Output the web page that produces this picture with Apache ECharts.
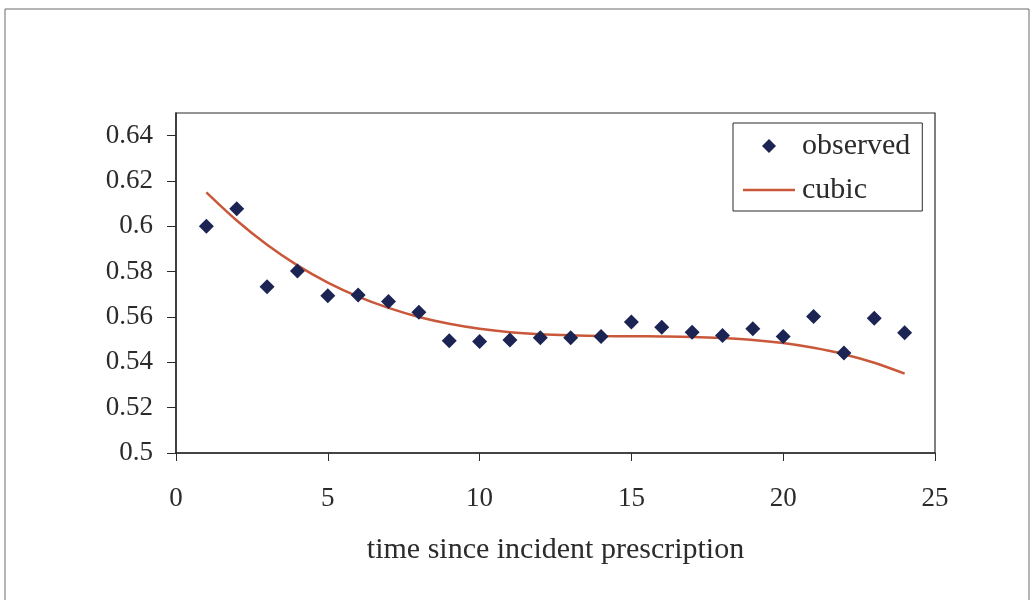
<!DOCTYPE html>
<html>
<head>
<meta charset="utf-8">
<script src="https://cdn.jsdelivr.net/npm/echarts@6/dist/echarts.min.js"></script>
<style>
  html, body { margin: 0; padding: 0; background: #fff; }
  #chart { width: 1032px; height: 600px; }
</style>
</head>
<body>
<div id="chart"></div>
<script>
// time since incident prescription (x values)
const timeSteps = [1, 2, 3, 4, 5, 6, 7, 8, 9, 10, 11, 12, 13, 14, 15, 16, 17, 18, 19, 20, 21, 22, 23, 24];
// observed proportions
const observedValues = [0.600, 0.6078, 0.5734, 0.5803, 0.5694, 0.5697, 0.5668, 0.5621, 0.5495, 0.5492, 0.5499, 0.5509,
                        0.5509, 0.5514, 0.5578, 0.5555, 0.5533, 0.5518, 0.5548, 0.5514, 0.5602, 0.5441, 0.5595, 0.5531];
// fitted cubic trend
const cubicValues = [0.615, 0.6026, 0.5919, 0.5828, 0.5752, 0.5690, 0.5640, 0.5600, 0.5570, 0.5548, 0.5533, 0.5524,
                     0.5519, 0.5516, 0.5515, 0.5514, 0.5512, 0.5507, 0.5499, 0.5485, 0.5464, 0.5436, 0.5398, 0.5350];
// axis tick values
const yTickValues = [0.5, 0.52, 0.54, 0.56, 0.58, 0.6, 0.62, 0.64];
const xTickValues = [0, 5, 10, 15, 20, 25];

const FONT = '"Liberation Serif", "DejaVu Serif", serif';
const TEXT = '#2b2b2b';
const MARKER = '#1b2452';
const CURVE = '#c9583b';

const chart = echarts.init(document.getElementById('chart'), null, { renderer: 'canvas' });

chart.setOption({
  backgroundColor: '#ffffff',
  animation: false,
  graphic: [{
    type: 'rect',
    shape: { x: 5, y: 9, width: 1024, height: 620 },
    style: { fill: 'none', stroke: '#6a6a6a', lineWidth: 1 },
    silent: true
  }],
  grid: {
    left: 176, right: 97, top: 113, bottom: 147,
    show: true, borderColor: '#2a2a2a', borderWidth: 1.2, backgroundColor: 'transparent'
  },
  legend: {
    orient: 'vertical',
    left: 733, top: 123,
    padding: [8, 12, 6, 10],
    itemGap: 14,
    itemWidth: 52, itemHeight: 14,
    symbolKeepAspect: true,
    borderColor: '#2a2a2a', borderWidth: 1,
    backgroundColor: '#fff',
    textStyle: { fontFamily: FONT, fontSize: 30, color: TEXT, padding: [0, 0, 0, 2] },
    data: [
      { name: 'observed', icon: 'path://M7,0 L14,7 L7,14 L0,7 Z', itemStyle: { color: MARKER } },
      { name: 'cubic', icon: 'path://M0,0 L52,0 L52,2.5 L0,2.5 Z', itemStyle: { color: CURVE } }
    ]
  },
  xAxis: {
    type: 'value',
    min: 0, max: 25, interval: 5,
    name: 'time since incident prescription',
    nameLocation: 'middle',
    nameGap: 82,
    nameTextStyle: { fontFamily: FONT, fontSize: 30, color: TEXT },
    axisLine: { show: true, lineStyle: { color: '#2a2a2a', width: 1.5 } },
    axisTick: { show: true, inside: false, length: 8, lineStyle: { color: '#2a2a2a' }, customValues: xTickValues },
    axisLabel: { fontFamily: FONT, fontSize: 27, color: TEXT, margin: 32, customValues: xTickValues },
    splitLine: { show: false }
  },
  yAxis: {
    type: 'value',
    min: 0.5, max: 0.65, interval: 0.02,
    axisLine: { show: true, lineStyle: { color: '#2a2a2a', width: 1.5 } },
    axisTick: { show: true, inside: false, length: 9, lineStyle: { color: '#2a2a2a' }, customValues: yTickValues },
    axisLabel: { fontFamily: FONT, fontSize: 27, color: TEXT, margin: 23, customValues: yTickValues },
    splitLine: { show: false }
  },
  series: [
    {
      name: 'observed',
      type: 'scatter',
      symbol: 'diamond',
      symbolSize: 15,
      itemStyle: { color: MARKER, opacity: 1 },
      data: timeSteps.map((t, i) => [t, observedValues[i]]),
      z: 3
    },
    {
      name: 'cubic',
      type: 'line',
      symbol: 'none',
      smooth: 0.3,
      lineStyle: { color: CURVE, width: 2.5 },
      itemStyle: { color: CURVE },
      data: timeSteps.map((t, i) => [t, cubicValues[i]]),
      z: 2
    }
  ]
});
</script>
</body>
</html>
